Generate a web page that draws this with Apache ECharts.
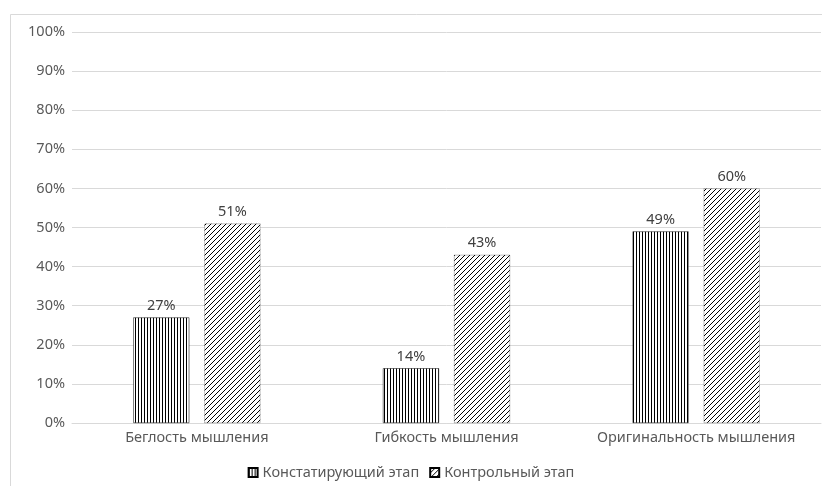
<!DOCTYPE html>
<html><head><meta charset="utf-8">
<script src="https://cdn.jsdelivr.net/npm/echarts@6/dist/echarts.min.js"></script>
<style>html,body{margin:0;padding:0;background:#fff}#c{width:822px;height:486px}</style>
</head><body><div id="c"></div>
<script>
const categories = ['Беглость мышления', 'Гибкость мышления', 'Оригинальность мышления'];
const seriesNames = ['Констатирующий этап', 'Контрольный этап'];
const stage1 = [27, 14, 49];
const stage2 = [51, 43, 60];
const yTicks = [0, 10, 20, 30, 40, 50, 60, 70, 80, 90, 100];

function vPattern() {
  const c = document.createElement('canvas');
  c.width = 3; c.height = 3;
  const g = c.getContext('2d');
  g.fillStyle = '#fff'; g.fillRect(0, 0, 3, 3);
  g.fillStyle = '#000'; g.fillRect(0, 0, 1, 3);
  return c;
}
function dPattern() {
  const s = 5;
  const c = document.createElement('canvas');
  c.width = s; c.height = s;
  const g = c.getContext('2d');
  g.fillStyle = '#fff'; g.fillRect(0, 0, s, s);
  g.strokeStyle = '#000'; g.lineWidth = 1;
  g.beginPath();
  g.moveTo(-1, s + 1); g.lineTo(s + 1, -1);
  g.moveTo(-1 - s, s + 1); g.lineTo(1, -1);
  g.moveTo(s - 1, 2 * s + 1); g.lineTo(2 * s + 1, s - 1);
  g.stroke();
  return c;
}
const font = 'Noto Sans';
const fs = 14.5;
const chart = echarts.init(document.getElementById('c'), null, {renderer: 'canvas'});
chart.setOption({
  animation: false,
  backgroundColor: '#fff',
  textStyle: {fontFamily: font},
  graphic: [{type: 'rect', shape: {x: 10.5, y: 14.5, width: 900, height: 600}, style: {fill: 'none', stroke: '#d9d9d9', lineWidth: 1}, silent: true, z: -1}],
  grid: {left: 72, right: 1, top: 32, bottom: 63, containLabel: false},
  legend: {
    bottom: 1, left: 'center', itemWidth: 9, itemHeight: 9, itemGap: 10,
    icon: 'rect',
    textStyle: {color: '#595959', fontSize: fs, fontFamily: font},
    data: seriesNames
  },
  xAxis: {
    type: 'category', data: categories,
    axisLine: {lineStyle: {color: '#d9d9d9'}}, axisTick: {show: false},
    axisLabel: {color: '#595959', fontSize: fs, margin: 7, fontFamily: font, interval: 0}
  },
  yAxis: {
    type: 'value', min: yTicks[0], max: yTicks[yTicks.length - 1], interval: 10,
    axisLine: {show: false}, axisTick: {show: false},
    splitLine: {lineStyle: {color: '#d9d9d9'}},
    axisLabel: {color: '#595959', fontSize: fs, margin: 7, formatter: v => v + '%', fontFamily: font}
  },
  series: [
    {name: seriesNames[0], type: 'bar', data: stage1, barWidth: 56, barGap: '27%',
     itemStyle: {color: {image: vPattern(), repeat: 'repeat'}, borderColor: '#000', borderWidth: 0.5},
     label: {show: true, position: 'top', formatter: p => p.value + '%', color: '#404040', fontSize: fs, distance: 4, fontFamily: font}},
    {name: seriesNames[1], type: 'bar', data: stage2, barWidth: 56,
     itemStyle: {color: {image: dPattern(), repeat: 'repeat'}, borderColor: '#000', borderWidth: 0.5, borderType: 'dotted'},
     label: {show: true, position: 'top', formatter: p => p.value + '%', color: '#404040', fontSize: fs, distance: 4, fontFamily: font}}
  ]
});
</script></body></html>
